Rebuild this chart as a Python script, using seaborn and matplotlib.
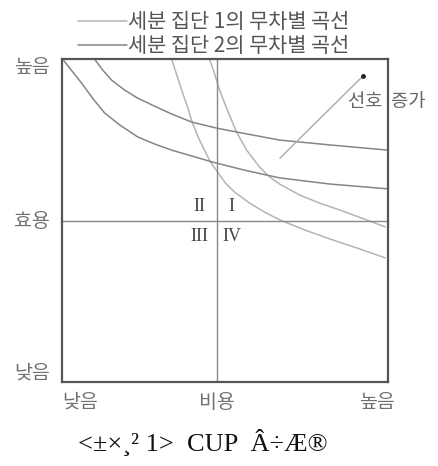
import matplotlib.pyplot as plt
import seaborn as sns
import pandas as pd

# 세분 집단 1의 무차별 곡선 (가파른 곡선 두 개)
g1_c1_x = [3.37, 3.52, 3.68, 3.86, 4.01, 4.20, 4.38, 4.56, 4.78, 5.02, 5.30,
           5.76, 6.22, 6.68, 7.44, 8.30, 9.13, 9.92]
g1_c1_y = [10.0, 9.54, 9.04, 8.51, 8.02, 7.55, 7.18, 6.81, 6.50, 6.16, 5.88,
           5.54, 5.26, 5.02, 4.71, 4.40, 4.12, 3.84]
g1_c2_x = [4.53, 4.69, 4.84, 5.08, 5.36, 5.67, 6.06, 6.37, 6.68, 7.29, 7.90,
           8.51, 9.34, 9.92]
g1_c2_y = [10.0, 9.54, 9.04, 8.42, 7.74, 7.18, 6.66, 6.35, 6.13, 5.79, 5.54,
           5.33, 5.02, 4.80]

# 세분 집단 2의 무차별 곡선 (완만한 곡선 두 개)
g2_c1_x = [0.03, 0.25, 0.61, 0.95, 1.32, 1.78, 2.33, 2.85, 3.37, 3.98, 4.62,
           5.60, 6.68, 8.21, 9.99]
g2_c1_y = [10.0, 9.72, 9.26, 8.79, 8.33, 7.96, 7.59, 7.37, 7.18, 7.00, 6.81,
           6.56, 6.32, 6.13, 5.98]
g2_c2_x = [1.01, 1.26, 1.53, 1.93, 2.33, 2.85, 3.37, 3.98, 4.75, 5.36, 6.68,
           8.21, 9.98]
g2_c2_y = [10.0, 9.66, 9.35, 9.04, 8.79, 8.54, 8.30, 8.05, 7.86, 7.74, 7.49,
           7.34, 7.18]

legend_labels = ['세분 집단 1의 무차별 곡선', '세분 집단 2의 무차별 곡선']
y_labels = ['높음', '효용', '낮음']
x_labels = ['낮음', '비용', '높음']
quadrants = ['II', 'I', 'III', 'IV']
caption = '<±×¸² 1>  CUP  Â÷Æ®'

# 선호 증가 화살표
arrow_x = [6.69, 9.23]
arrow_y = [6.93, 9.47]

rows = []
for name, group, xs, ys in [('a', legend_labels[0], g1_c1_x, g1_c1_y),
                            ('b', legend_labels[0], g1_c2_x, g1_c2_y),
                            ('c', legend_labels[1], g2_c1_x, g2_c1_y),
                            ('d', legend_labels[1], g2_c2_x, g2_c2_y)]:
    for x, y in zip(xs, ys):
        rows.append({'x': x, 'y': y, 'curve': name, 'group': group})
df = pd.DataFrame(rows)

sns.set_style('white')
plt.rcParams['font.family'] = ['Noto Sans CJK KR', 'DejaVu Sans']

fig = plt.figure(figsize=(4.38, 4.66), dpi=100)
ax = fig.add_axes([61.5 / 438, 84 / 466, 326.5 / 438, 323 / 466])

palette = {legend_labels[0]: '#b4b4b4', legend_labels[1]: '#858585'}
sns.lineplot(data=df, x='x', y='y', hue='group', units='curve', estimator=None,
             sort=False, palette=palette, linewidth=1.1, ax=ax)

# 가운데 기준선
ax.axvline(4.77, color='#888888', lw=1.0)
ax.axhline(4.98, color='#888888', lw=1.0)

# 화살표
ax.plot(arrow_x, arrow_y, color='#aaaaaa', lw=1.0)
ax.plot(arrow_x[1], arrow_y[1], 'o', color='#222222', ms=2.5)
ax.text(8.77, 8.67, '선호  증가', fontsize=13.5, color='#666666', ha='left',
        va='center', clip_on=False)

ax.set_xlim(0, 10)
ax.set_ylim(0, 10)
ax.set_xticks([])
ax.set_yticks([])
ax.set_xlabel('')
ax.set_ylabel('')
for s in ax.spines.values():
    s.set_color('#555555')
    s.set_linewidth(1.6)

# 사분면 번호
serif = ['Liberation Serif', 'DejaVu Serif']
qx = [4.23, 5.21, 4.23, 5.21]
qy = [5.42, 5.42, 4.49, 4.49]
for lab, x, y in zip(quadrants, qx, qy):
    ax.text(x, y, lab, fontsize=13, color='#444444', ha='center', va='center',
            family=serif)

# 축 글자
for lab, y in zip(y_labels, [9.75, 4.98, 0.28]):
    ax.text(-0.35, y, lab, fontsize=14, color='#707070', ha='right', va='center',
            clip_on=False)
for lab, x in zip(x_labels, [0.58, 4.75, 9.66]):
    ax.text(x, -0.62, lab, fontsize=14, color='#707070', ha='center', va='center',
            clip_on=False)

leg = ax.legend(loc='upper left', bbox_to_anchor=(78 / 438, 1 - 11 / 466),
                bbox_transform=fig.transFigure, frameon=False, fontsize=15,
                handlelength=2.35, handletextpad=0.05, labelspacing=0.1,
                borderpad=0, borderaxespad=0)
for t in leg.get_texts():
    t.set_color('#555555')

fig.text(203 / 438, 1 - 443 / 466, caption, fontsize=19, family=serif,
         ha='center', va='center', color='#111111')

fig.savefig('out.png', dpi=100)
